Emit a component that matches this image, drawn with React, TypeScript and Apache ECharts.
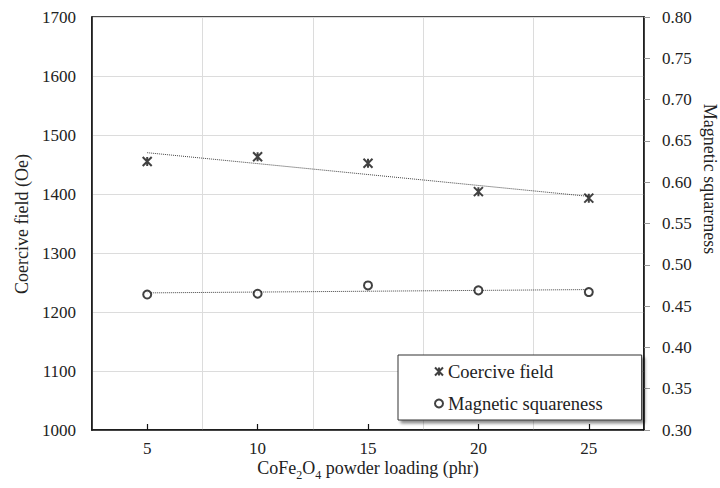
import React, { useEffect, useRef } from "react";
import * as echarts from "echarts";

const categories = ["5", "10", "15", "20", "25"];
const coerciveField = [1455, 1463, 1452, 1404, 1393];
const squareness = [0.464, 0.465, 0.475, 0.469, 0.467];
const coerciveTrend = [1470, null, null, null, 1396];
const squarenessTrend = [0.466, null, null, null, 0.47];

const leftTicks = { min: 1000, max: 1700, interval: 100 };
const rightTicks = { min: 0.3, max: 0.8, interval: 0.05 };

const FONT = "Liberation Serif";
const STAR = "path://M0,0L10,10M10,0L0,10M5,0L5,10";

const tickRich = {
  t: { fontFamily: FONT, fontSize: 17, color: "#222" },
};
const tickLabel = {
  fontFamily: FONT,
  fontSize: 17,
  color: "#222",
  rich: tickRich,
};

export default function App() {
  const ref = useRef<HTMLDivElement>(null);
  useEffect(() => {
    if (!ref.current) return;
    const chart = echarts.init(ref.current, null, { renderer: "svg" });
    chart.setOption({
      animation: false,
      backgroundColor: "#fff",
      textStyle: { fontFamily: FONT, color: "#222" },
      grid: {
        left: 92,
        top: 17,
        right: 76,
        bottom: 58,
        show: true,
        borderColor: "#111",
        borderWidth: 1.5,
        backgroundColor: "transparent",
      },
      xAxis: {
        type: "category",
        data: categories,
        boundaryGap: true,
        axisLine: { show: true, lineStyle: { color: "#111", width: 1.5 } },
        axisTick: { show: true, inside: true, alignWithLabel: true, length: 6, lineStyle: { color: "#111", width: 1.2 } },
        axisLabel: { ...tickLabel, margin: 10, formatter: (v: string) => `{t|${v}}` },
        splitLine: { show: true, lineStyle: { color: "#dcdcdc", width: 1 } },
      },
      yAxis: [
        {
          type: "value",
          position: "left",
          min: leftTicks.min,
          max: leftTicks.max,
          interval: leftTicks.interval,
          axisLine: { show: true, lineStyle: { color: "#111", width: 1.5 } },
          axisTick: { show: false },
          axisLabel: { ...tickLabel, margin: 16, formatter: (v: number) => `{t|${v}}` },
          splitLine: { show: true, lineStyle: { color: "#dcdcdc", width: 1 } },
        },
        {
          type: "value",
          position: "right",
          min: rightTicks.min,
          max: rightTicks.max,
          interval: rightTicks.interval,
          axisLine: { show: true, lineStyle: { color: "#111", width: 1.5 } },
          axisTick: { show: true, inside: false, length: 6, lineStyle: { color: "#999", width: 1 } },
          axisLabel: { ...tickLabel, margin: 18, formatter: (v: number) => `{t|${v.toFixed(2)}}` },
          splitLine: { show: false },
        },
      ],
      legend: {
        orient: "vertical",
        left: 398,
        top: 355,
        padding: [7, 39, 7, 36],
        itemGap: 13,
        itemWidth: 8,
        itemHeight: 8,
        backgroundColor: "#fff",
        borderColor: "#333",
        borderWidth: 1,
        shadowColor: "rgba(0,0,0,0.45)",
        shadowBlur: 3,
        shadowOffsetX: 3,
        shadowOffsetY: 3,
        textStyle: { fontFamily: FONT, fontSize: 18.5, color: "#222" },
        data: [
          { name: "Coercive field", icon: STAR },
          { name: "Magnetic squareness", icon: "emptyCircle" },
        ],
      },
      series: [
        {
          name: "Coercive trend",
          type: "line",
          yAxisIndex: 0,
          data: coerciveTrend,
          connectNulls: true,
          showSymbol: false,
          symbol: "none",
          lineStyle: { color: "#444", width: 1, type: "dotted" },
          silent: true,
          z: 1,
        },
        {
          name: "Squareness trend",
          type: "line",
          yAxisIndex: 1,
          data: squarenessTrend,
          connectNulls: true,
          showSymbol: false,
          symbol: "none",
          lineStyle: { color: "#444", width: 1, type: "dotted" },
          silent: true,
          z: 1,
        },
        {
          name: "Coercive field",
          type: "scatter",
          yAxisIndex: 0,
          data: coerciveField,
          symbol: STAR,
          symbolSize: 9,
          itemStyle: { color: "rgba(0,0,0,0)", borderColor: "#111", borderWidth: 2 },
          z: 3,
        },
        {
          name: "Magnetic squareness",
          type: "scatter",
          yAxisIndex: 1,
          data: squareness,
          symbol: "emptyCircle",
          symbolSize: 8,
          itemStyle: { color: "#111", borderColor: "#111", borderWidth: 1.6 },
          z: 3,
        },
      ],
      graphic: [
        {
          type: "text",
          x: 22,
          y: 224,
          rotation: Math.PI / 2,
          style: {
            text: "Coercive field (Oe)",
            fontFamily: FONT,
            fontSize: 18,
            fill: "#222",
            align: "center",
            verticalAlign: "middle",
          },
        },
        {
          type: "text",
          x: 710,
          y: 179,
          rotation: -Math.PI / 2,
          style: {
            text: "Magnetic squareness",
            fontFamily: FONT,
            fontSize: 18,
            fill: "#222",
            align: "center",
            verticalAlign: "middle",
          },
        },
        {
          type: "text",
          x: 368,
          y: 466,
          style: {
            text: "{n|CoFe}{s|2}{n|O}{s|4}{n| powder loading (phr)}",
            fontFamily: FONT,
            fontSize: 18,
            fill: "#222",
            align: "center",
            verticalAlign: "middle",
            rich: {
              n: { fontFamily: FONT, fontSize: 18, fill: "#222", lineHeight: 22, verticalAlign: "bottom" },
              s: { fontFamily: FONT, fontSize: 12, fill: "#222", lineHeight: 22, verticalAlign: "bottom", padding: [0, 0, -4, 0] },
            },
          },
        },
      ],
    });
    return () => chart.dispose();
  }, []);
  return <div ref={ref} style={{ width: 720, height: 488, position: "absolute", left: 0, top: 0 }} />;
}
